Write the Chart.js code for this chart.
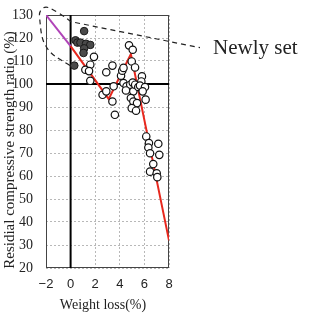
<!DOCTYPE html>
<html>
<head>
<meta charset="utf-8">
<script src="https://cdn.jsdelivr.net/npm/chart.js@4.4.1/dist/chart.umd.min.js"></script>
<style>
  html, body { margin: 0; padding: 0; background: #fff; }
  #chart { display: block; }
</style>
</head>
<body>
<canvas id="chart" width="316" height="314"></canvas>
<script>
/* values */

var xTicks = [-2, 0, 2, 4, 6, 8];
var yTicks = [20, 30, 40, 50, 60, 70, 80, 90, 100, 110, 120, 130];

// filled (dark) markers - newly set specimens
var newX = [0.3, 0.4, 0.55, 0.8, 1.1, 1.25, 1.6, 1.1, 1.05];
var newY = [108, 119, 118, 118, 123, 117.5, 117, 115.5, 113.5];

// open markers
var oldX = [1.9, 1.6, 1.2, 1.5, 1.6, 2.9, 3.4, 2.6, 2.9, 3.4, 3.6, 3.5,
            4.1, 4.2, 4.3, 4.75, 5.05, 4.97, 5.24, 4.3, 4.55, 4.85, 5.05, 4.5,
            5.1, 5.25, 5.5, 5.8, 5.75, 5.64, 6.05, 5.86, 4.9, 5.1, 5.4, 4.97,
            5.32, 6.1, 6.15, 6.37, 7.13, 6.32, 7.21, 6.46, 6.72, 6.46, 7.0, 7.05];
var oldY = [111.8, 108.4, 106.2, 105.6, 101.4, 105.1, 108.0, 95.3, 96.8, 92.4, 86.6, 99.0,
            103.6, 105.8, 107.0, 116.8, 114.9, 109.8, 107.2, 100.4, 99.0, 99.7, 100.6, 97.2,
            96.8, 99.7, 98.7, 103.3, 101.1, 99.3, 98.7, 96.8, 93.9, 92.4, 91.7, 89.5,
            88.4, 93.2, 77.2, 74.3, 74.0, 72.4, 69.2, 69.9, 65.2, 61.9, 61.2, 59.5];

// red trend line
var trendX = [0, 3.1, 4.9, 8];
var trendY = [116.5, 93.5, 113, 32];

// magenta extension
var extX = [-2, 0];
var extY = [130, 116.5];

// reference lines
var refX = 0;
var refY = 100;

// dashed callout outline (data units) and leader end
var calloutX = [-0.05, -0.86, -1.67, -2.24, -2.41, -2.49, -2.57, -2.08, -1.43, -0.62, 0.03];
var calloutY = [108.0, 110.6, 113.6, 118.4, 122.8, 127.1, 131.5, 133.9, 132.4, 129.7, 127.1];
var leaderX = 10.52;
var leaderY = 115.8;
var calloutLabel = 'Newly set';

var xTitle = 'Weight loss(%)';
var yTitle = 'Residial compressive strength ratio (%)';


function zip(xs, ys) {
  var out = [];
  for (var i = 0; i < xs.length; i++) {
    out.push({x: xs[i], y: ys[i]});
  }
  return out;
}

var serif = '"Liberation Serif", "DejaVu Serif", serif';
var sans = '"Liberation Sans", Arial, sans-serif';

var framePlugin = {
  id: 'frame',
  beforeDatasetsDraw: function(chart) {
    var a = chart.chartArea;
    var ctx = chart.ctx;
    ctx.save();
    ctx.strokeStyle = '#444';
    ctx.lineWidth = 1;
    ctx.strokeRect(a.left + 0.5, a.top + 0.5, a.right - a.left - 1, a.bottom - a.top - 1);
    ctx.restore();
  },
  afterDraw: function(chart) {
    var ctx = chart.ctx;
    var xs = chart.scales.x;
    var ys = chart.scales.y;

    // callout outline, smoothed through its points
    var pts = [];
    for (var i = 0; i < calloutX.length; i++) {
      pts.push([xs.getPixelForValue(calloutX[i]), ys.getPixelForValue(calloutY[i])]);
    }
    ctx.save();
    ctx.strokeStyle = '#222';
    ctx.lineWidth = 1.2;
    ctx.setLineDash([5, 4]);
    ctx.beginPath();
    ctx.moveTo(pts[0][0], pts[0][1]);
    for (var j = 1; j < pts.length - 1; j++) {
      var mx = (pts[j][0] + pts[j + 1][0]) / 2;
      var my = (pts[j][1] + pts[j + 1][1]) / 2;
      ctx.quadraticCurveTo(pts[j][0], pts[j][1], mx, my);
    }
    var last = pts[pts.length - 1];
    ctx.lineTo(last[0], last[1]);
    ctx.lineTo(xs.getPixelForValue(leaderX), ys.getPixelForValue(leaderY));
    ctx.stroke();
    ctx.restore();

    // texts
    ctx.save();
    ctx.fillStyle = '#222';
    ctx.font = '21px ' + serif;
    ctx.textAlign = 'left';
    ctx.textBaseline = 'alphabetic';
    ctx.fillText(calloutLabel, xs.getPixelForValue(leaderX) + 13, ys.getPixelForValue(leaderY) + 6);

    ctx.font = '14px ' + serif;
    ctx.textAlign = 'center';
    ctx.textBaseline = 'middle';
    ctx.fillText(xTitle, 103, 305);

    ctx.translate(10, 150);
    ctx.rotate(-Math.PI / 2);
    ctx.font = '15px ' + serif;
    ctx.fillText(yTitle, 0, 0);
    ctx.restore();
  }
};

var ctx = document.getElementById('chart').getContext('2d');

new Chart(ctx, {
  type: 'scatter',
  data: {
    datasets: [
      {
        data: zip(oldX, oldY),
        pointRadius: 3.7,
        pointBackgroundColor: '#fff',
        pointBorderColor: '#111',
        pointBorderWidth: 1.2
      },
      {
        data: zip(newX, newY),
        pointRadius: 3.8,
        pointBackgroundColor: '#4a4a4a',
        pointBorderColor: '#1a1a1a',
        pointBorderWidth: 1
      },
      {
        data: zip(trendX, trendY),
        showLine: true,
        pointRadius: 0,
        borderColor: '#e8281e',
        borderWidth: 2
      },
      {
        data: zip(extX, extY),
        showLine: true,
        pointRadius: 0,
        borderColor: '#b044b8',
        borderWidth: 2
      },
      {
        data: [{x: xTicks[0], y: refY}, {x: xTicks[xTicks.length - 1], y: refY}],
        showLine: true,
        pointRadius: 0,
        borderColor: '#000',
        borderWidth: 2
      },
      {
        data: [{x: refX, y: yTicks[0]}, {x: refX, y: yTicks[yTicks.length - 1]}],
        showLine: true,
        pointRadius: 0,
        borderColor: '#000',
        borderWidth: 2
      }
    ]
  },
  options: {
    responsive: false,
    animation: false,
    devicePixelRatio: 1,
    layout: { padding: { top: 15, right: 147, left: 0, bottom: 0 } },
    plugins: {
      legend: { display: false },
      tooltip: { enabled: false }
    },
    scales: {
      x: {
        type: 'linear',
        min: xTicks[0],
        max: xTicks[xTicks.length - 1],
        afterFit: function(scale) {
          scale.height = 46;
          scale.paddingLeft = 0;
          scale.paddingRight = 0;
        },
        afterBuildTicks: function(scale) {
          scale.ticks = xTicks.map(function(v) { return {value: v}; });
        },
        ticks: {
          padding: 9,
          color: '#222',
          font: { family: sans, size: 13 },
          callback: function(v) { return String(v).replace('-', '\u2212'); }
        },
        grid: { color: '#b8b8b8', lineWidth: 1, drawTicks: false },
        border: { display: false, dash: [2, 2] }
      },
      y: {
        type: 'linear',
        min: yTicks[0],
        max: yTicks[yTicks.length - 1],
        afterFit: function(scale) {
          scale.width = 46;
          scale.paddingTop = 0;
          scale.paddingBottom = 0;
        },
        afterBuildTicks: function(scale) {
          scale.ticks = yTicks.map(function(v) { return {value: v}; });
        },
        ticks: {
          padding: 13,
          color: '#222',
          font: { family: serif, size: 14 }
        },
        grid: { color: '#b8b8b8', lineWidth: 1, drawTicks: false },
        border: { display: false, dash: [2, 2] }
      }
    }
  },
  plugins: [framePlugin]
});
</script>
</body>
</html>
